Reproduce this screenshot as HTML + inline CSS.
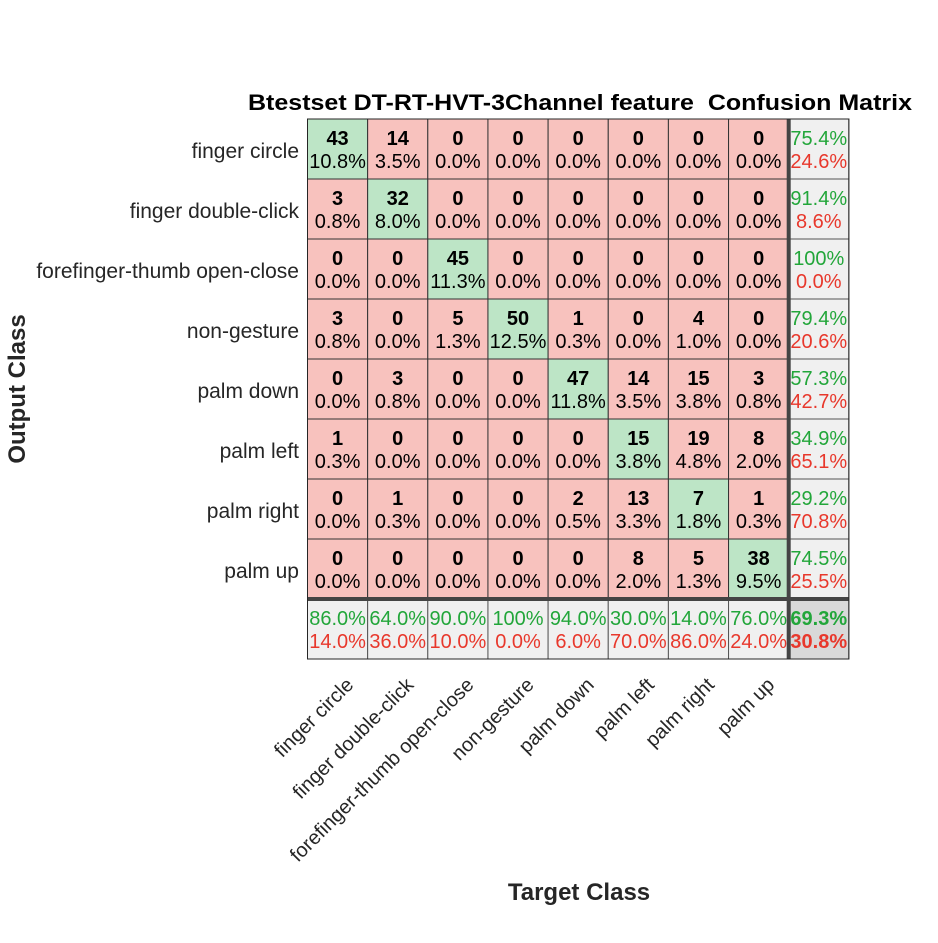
<!DOCTYPE html>
<html><head><meta charset="utf-8"><style>html,body{margin:0;padding:0;background:#fff}svg text{font-family:"Liberation Sans",Arial,sans-serif}</style></head>
<body>
<svg id="chart" width="938" height="938" viewBox="0 0 938 938"></svg>
<script>
const classes=["finger circle","finger double-click","forefinger-thumb open-close","non-gesture","palm down","palm left","palm right","palm up"];
const counts=[
[43,14,0,0,0,0,0,0],
[3,32,0,0,0,0,0,0],
[0,0,45,0,0,0,0,0],
[3,0,5,50,1,0,4,0],
[0,3,0,0,47,14,15,3],
[1,0,0,0,0,15,19,8],
[0,1,0,0,2,13,7,1],
[0,0,0,0,0,8,5,38]];
const rowGood=["75.4%","91.4%","100%","79.4%","57.3%","34.9%","29.2%","74.5%"];
const rowBad=["24.6%","8.6%","0.0%","20.6%","42.7%","65.1%","70.8%","25.5%"];
const colGood=["86.0%","64.0%","90.0%","100%","94.0%","30.0%","14.0%","76.0%"];
const colBad=["14.0%","36.0%","10.0%","0.0%","6.0%","70.0%","86.0%","24.0%"];
const totalGood="69.3%",totalBad="30.8%";
const total=400;
const svg=document.getElementById('chart');const NS="http://www.w3.org/2000/svg";
const X0=307.5,Y0=119,CW=60.15,CH=60;
const n=classes.length;
function xs(i){return X0+i*CW}function ys(i){return Y0+i*CH}
function mk(tag,attrs,parent){const e=document.createElementNS(NS,tag);for(const k in attrs)e.setAttribute(k,attrs[k]);(parent||svg).appendChild(e);return e}
function txt(s,attrs){const e=mk('text',attrs);e.textContent=s;return e}
for(let r=0;r<n;r++)for(let c=0;c<n;c++){
 const v=counts[r][c];
 const rect=mk('rect',{x:xs(c),y:ys(r),width:CW,height:CH,fill:r===c?'#bde5c6':'#f8c2be',stroke:'#333','stroke-width':1});
 
 
 const t1=txt(String(v),{x:xs(c)+CW/2,y:ys(r)+26,'text-anchor':'middle','font-size':20,'font-weight':'bold',fill:'#000'});
 
 
 const t2=txt((v/total*100).toFixed(1)+'%',{x:xs(c)+CW/2,y:ys(r)+49,'text-anchor':'middle','font-size':20,fill:'#000'});
 
 
}
for(let r=0;r<n;r++){
 const rect=mk('rect',{x:xs(n),y:ys(r),width:CW,height:CH,fill:'#f0f0f0',stroke:'#555','stroke-width':1});
 
 
 const a=txt(rowGood[r],{x:xs(n)+CW/2,y:ys(r)+26,'text-anchor':'middle','font-size':20,fill:'#22a63a'});
 
 
 const b=txt(rowBad[r],{x:xs(n)+CW/2,y:ys(r)+49,'text-anchor':'middle','font-size':20,fill:'#e8382c'});
 
 
 const l=txt(classes[r],{x:299,y:ys(r)+39,'text-anchor':'end','font-size':21,fill:'#262626'});
 
 
}
for(let c=0;c<=n;c++){
 const last=c===n;
 const rect=mk('rect',{x:xs(c),y:ys(n),width:CW,height:CH,fill:last?'#d9d9d9':'#f0f0f0',stroke:'#555','stroke-width':1});
 
 
 const a=txt(last?totalGood:colGood[c],{x:xs(c)+CW/2,y:ys(n)+26,'text-anchor':'middle','font-size':20,fill:'#22a63a','font-weight':last?'bold':'normal'});
 
 
 const b=txt(last?totalBad:colBad[c],{x:xs(c)+CW/2,y:ys(n)+49,'text-anchor':'middle','font-size':20,fill:'#e8382c','font-weight':last?'bold':'normal'});
 
 
 if(!last){
  const cx=xs(c)+CW/2+17,cy=686;
  const l=txt(classes[c],{x:cx,y:cy,'text-anchor':'end','font-size':20,fill:'#262626',transform:'rotate(-45 '+cx+' '+cy+')'});
  
  
 }
}
const sep1=mk('line',{x1:xs(n),y1:ys(0),x2:xs(n),y2:ys(n+1),stroke:'#444','stroke-width':4});


const sep2=mk('line',{x1:xs(0),y1:ys(n),x2:xs(n+1),y2:ys(n),stroke:'#444','stroke-width':4});


const fr=mk('rect',{x:xs(0),y:ys(0),width:CW*(n+1),height:CH*(n+1),fill:'none',stroke:'#262626','stroke-width':1});


const title=txt('Btestset DT-RT-HVT-3Channel feature\u00a0 Confusion Matrix',{x:248,y:110,'font-size':22,'font-weight':'bold',fill:'#000',textLength:664,lengthAdjust:'spacingAndGlyphs'});


const xl=txt('Target Class',{x:579,y:900,'text-anchor':'middle','font-size':24,'font-weight':'bold',fill:'#262626'});


const yl=txt('Output Class',{x:0,y:0,'text-anchor':'middle','font-size':24,'font-weight':'bold',fill:'#262626',transform:'translate(25 389) rotate(-90)'});


</script>
</body></html>
